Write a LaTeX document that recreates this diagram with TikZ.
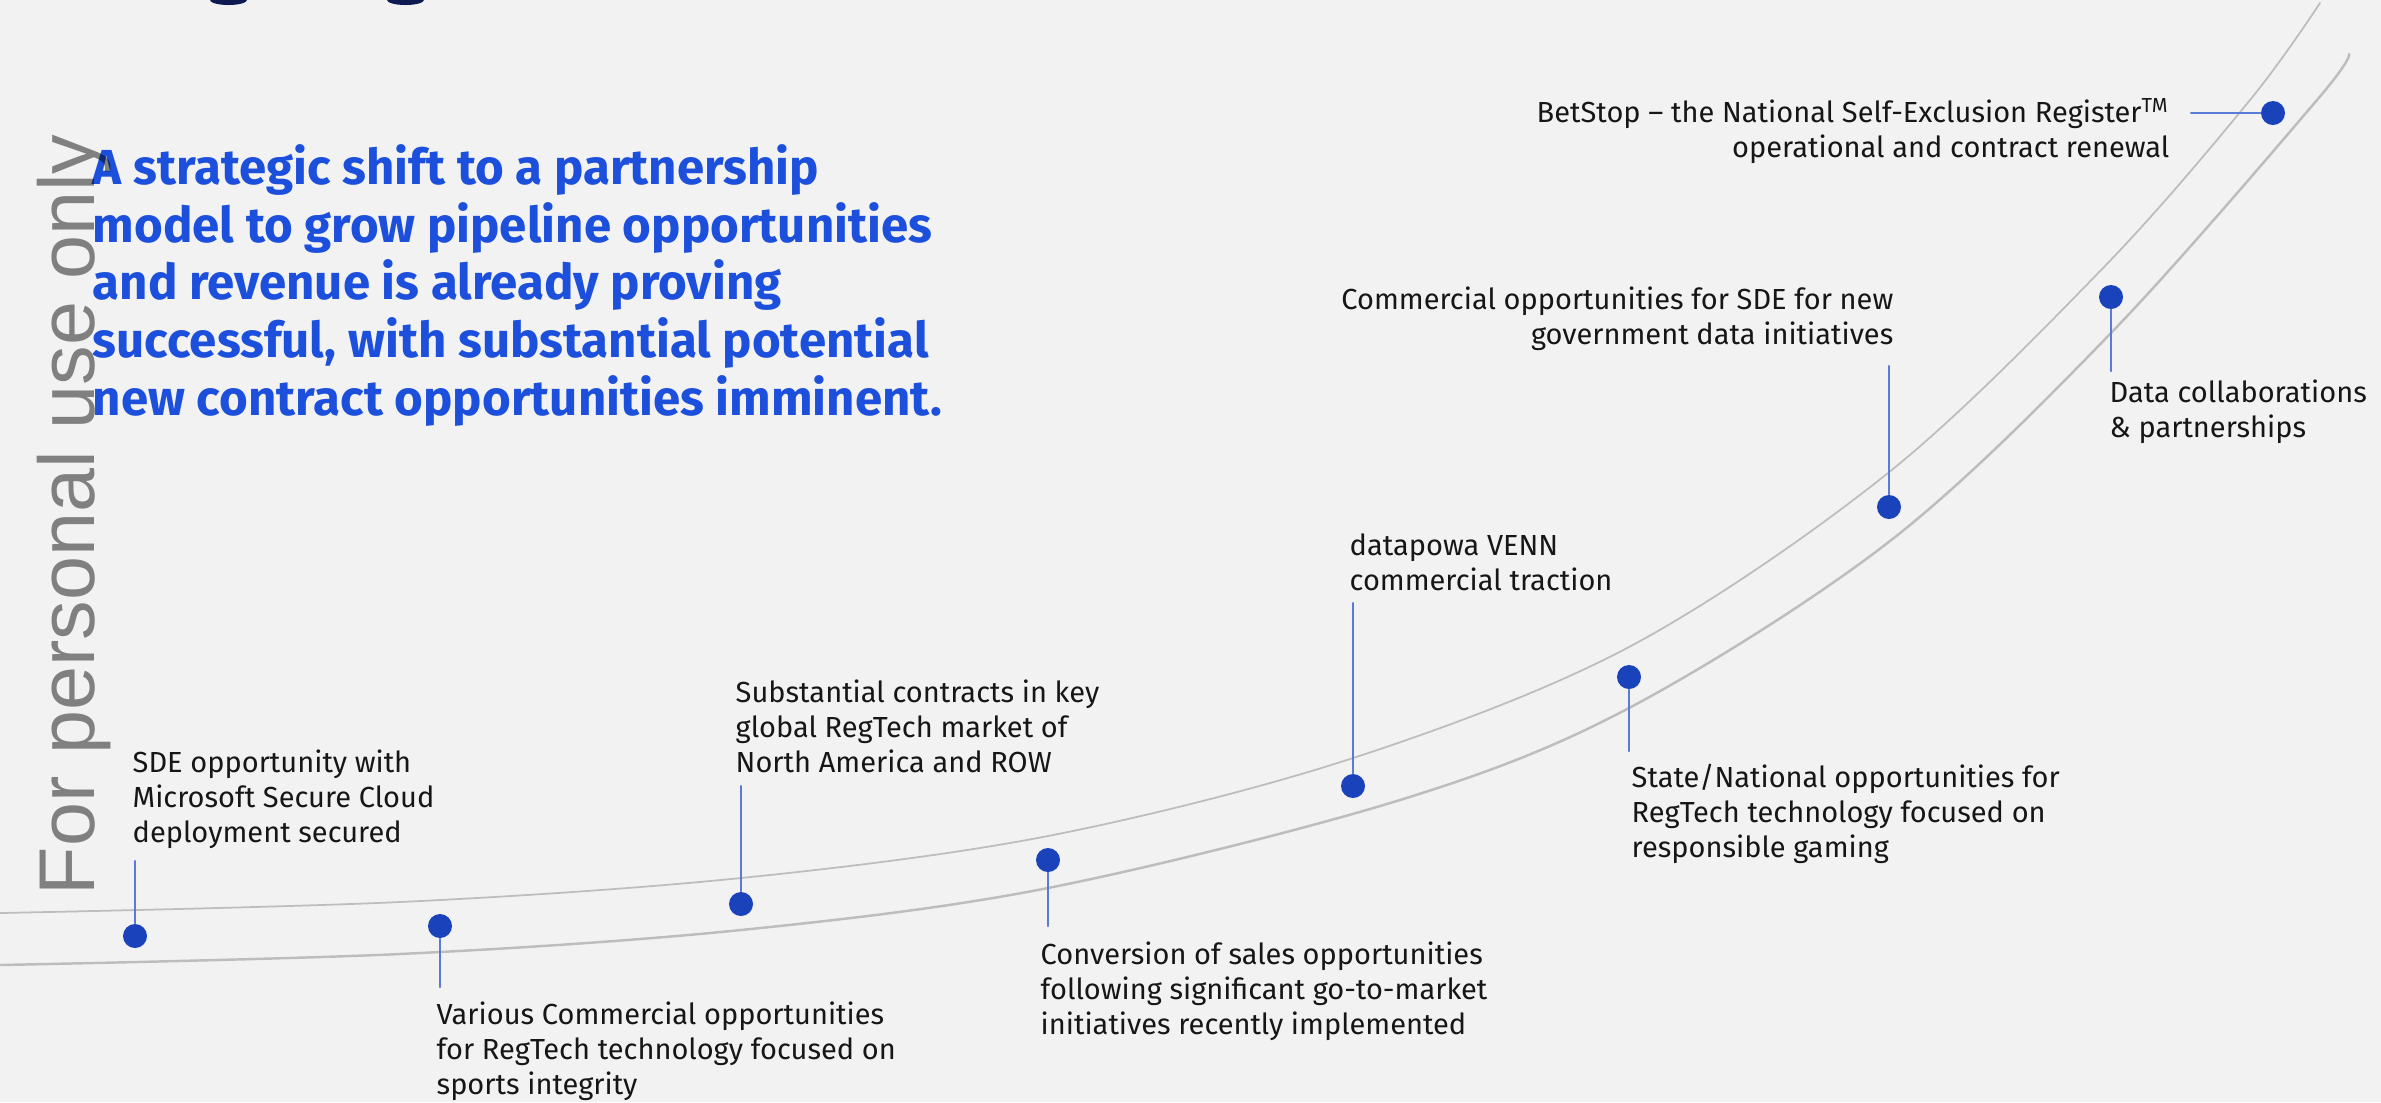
\documentclass[tikz,border=0pt]{standalone}
\usepackage{fontspec}
\setmainfont{Fira Sans}
\newfontfamily\markfont{Liberation Sans}
\definecolor{paper}{HTML}{F2F2F2}
\definecolor{track}{HTML}{BDBDBD}
\definecolor{pin}{HTML}{1A43BB}
\definecolor{pinline}{HTML}{5A7AD6}
\definecolor{headblue}{HTML}{1C4FDB}
\definecolor{navy}{HTML}{101A52}
\definecolor{ink}{HTML}{161616}
\begin{document}
\begin{tikzpicture}[x=0.01cm, y=-0.01cm, line join=round, line cap=round,
	curve/.style={draw=track, line width=0.5pt},
	dot/.style={circle, fill=pin, inner sep=0pt, minimum size=0.24cm},
	stem/.style={draw=pinline, line width=0.6pt},
	note/.style={inner sep=0pt, text=ink, font=\fontsize{8.25}{9.87}\selectfont},
	headline/.style={inner sep=0pt, text=headblue, align=left, font=\fontsize{14}{16.36}\selectfont\bfseries}]
	% page
	\fill[paper] (0,0) rectangle (2381,1102);
	\useasboundingbox (0,0) rectangle (2381,1102);
	% bits of the title above the page edge
	\fill[navy] (210,0) arc[start angle=180, end angle=360, x radius=0.185cm, y radius=0.05cm] -- cycle;
	\fill[navy] (387,0) arc[start angle=180, end angle=360, x radius=0.185cm, y radius=0.05cm] -- cycle;
	% growth curves
	\draw[curve] plot[smooth, tension=0.55] coordinates {(0,913) (400,902) (741,878) (1048,836) (1350,759) (1629,647) (1888,473) (2104,267) (2250,100) (2320,3)};
	\draw[curve, line width=0.7pt] plot[smooth, tension=0.55] coordinates {(0,965) (400,954) (741,930) (1048,888) (1400,800) (1629,708) (1890,541) (2111,333) (2317,100) (2349,54)};
	% headline (base = last line)
	\node[headline, anchor=base west] (head) at (92,415) {A strategic shift to a partnership\\model to grow pipeline opportunities\\and revenue is already proving\\successful, with substantial potential\\new contract opportunities imminent.};
	% pins
	\node[dot] (p1) at (135,936) {};
	\node[dot] (p2) at (440,926) {};
	\node[dot] (p3) at (741,904) {};
	\node[dot] (p4) at (1048,860) {};
	\node[dot] (p5) at (1353,786) {};
	\node[dot] (p6) at (1629,677) {};
	\node[dot] (p7) at (1889,507) {};
	\node[dot] (p8) at (2111,297) {};
	\node[dot] (p9) at (2273,113) {};
	\coordinate (s1) at (135,861);
	\coordinate (s2) at (440,987);
	\coordinate (s3) at (741,786);
	\coordinate (s4) at (1048,926);
	\coordinate (s5) at (1353,603);
	\coordinate (s6) at (1629,751);
	\coordinate (s7) at (1889,366);
	\coordinate (s8) at (2111,371);
	\coordinate (s9) at (2191,113);
	\foreach \i in {1,...,9}
		\draw[stem] (p\i) -- (s\i);
	% notes (anchored on the baseline of their last line)
	\node[note, anchor=base west, align=left] (n1) at (132,842) {SDE opportunity with\\Microsoft Secure Cloud\\deployment secured};
	\node[note, anchor=base west, align=left] (n2) at (436,1094) {Various Commercial opportunities\\for RegTech technology focused on\\sports integrity};
	\node[note, anchor=base west, align=left] (n3) at (735,772) {Substantial contracts in key\\global RegTech market of\\North America and ROW};
	\node[note, anchor=base west, align=left] (n4) at (1040,1034) {Conversion of sales opportunities\\following significant go-to-market\\initiatives recently implemented};
	\node[note, anchor=base west, align=left] (n5) at (1349,590) {datapowa VENN\\commercial traction};
	\node[note, anchor=base west, align=left] (n6) at (1631,857) {State/National opportunities for\\RegTech technology focused on\\responsible gaming};
	\node[note, anchor=base east, align=right] (n7) at (1894,344) {Commercial opportunities for SDE for new\\government data initiatives};
	\node[note, anchor=base west, align=left] (n8) at (2109,437) {Data collaborations\\\& partnerships};
	\node[note, anchor=base east, align=right] (n9) at (2170,157) {BetStop -- the National Self-Exclusion Register\textsuperscript{TM}\\operational and contract renewal};
	% watermark, laid over everything
	\node[rotate=90, anchor=base west, inner sep=0pt, text=black, text opacity=0.47, font=\markfont\fontsize{22.5}{27}\selectfont] (mark) at (94,896) {For personal use only};
\end{tikzpicture}
\end{document}
